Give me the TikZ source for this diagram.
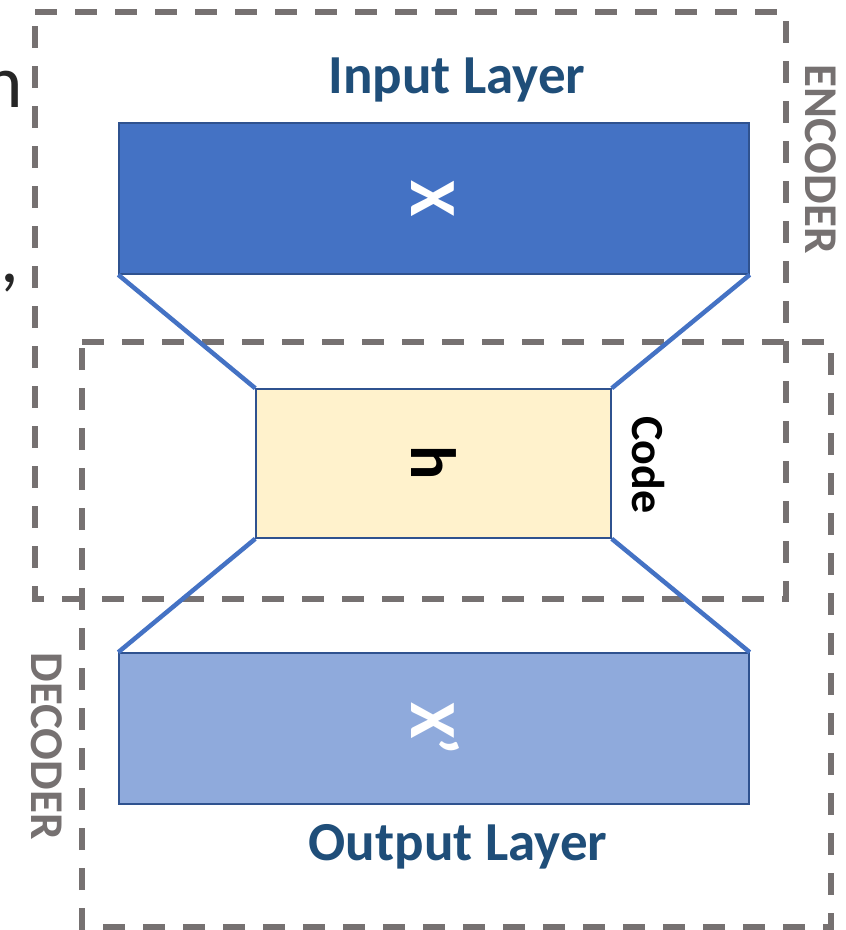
\documentclass[tikz,border=0pt]{standalone}
\usepackage{fontspec}
\setmainfont{Carlito}
\definecolor{encblue}{HTML}{4472C4}
\definecolor{decblue}{HTML}{8FAADC}
\definecolor{codefill}{HTML}{FFF2CC}
\definecolor{edgeblue}{HTML}{2F528F}
\definecolor{titleblue}{HTML}{1F4E79}
\definecolor{dashgray}{HTML}{767171}
\definecolor{fragtext}{HTML}{262626}
\begin{document}
\begin{tikzpicture}[x=1pt,y=-1pt,
  layerbox/.style={draw=edgeblue, line width=1.5pt, inner sep=0pt, minimum width=630pt, minimum height=151pt},
  funnel/.style={draw=encblue, line width=4.5pt},
  groupbox/.style={draw=dashgray, line width=5.5pt, dash pattern=on 22pt off 18pt},
  titletext/.style={font=\bfseries\fontsize{55}{60}\selectfont, text=titleblue, inner sep=0pt, anchor=base},
  sidelabel/.style={font=\bfseries\fontsize{47}{50}\selectfont, text=dashgray, rotate=-90, inner sep=0pt},
  varlabel/.style={font=\bfseries\fontsize{66}{70}\selectfont, text=white, rotate=-90, inner sep=0pt},
  fragment/.style={font=\fontsize{75}{80}\selectfont, text=fragtext, inner sep=0pt}
]
\useasboundingbox (0,0) rectangle (846,930);
% dashed group boxes
\draw[groupbox] (35,12) -- (786,12) -- (786,599) -- (35,599) -- cycle;
\draw[groupbox] (82,342) -- (831,342) -- (831,927) -- (82,927) -- cycle;
% layers
\node[layerbox, fill=encblue] (inp) at (434,198.5) {};
\node[layerbox, fill=codefill, minimum width=355pt, minimum height=149pt] (code) at (433.5,463.5) {};
\node[layerbox, fill=decblue] (out) at (434,728.5) {};
% funnel connectors
\draw[funnel] (inp.south west) -- (code.north west);
\draw[funnel] (inp.south east) -- (code.north east);
\draw[funnel] (code.south west) -- (out.north west);
\draw[funnel] (code.south east) -- (out.north east);
% labels
\node[titletext] (inptitle) at (457,93) {Input Layer};
\node[titletext] (outtitle) at (458,860) {Output Layer};
\node[varlabel] (xin) at (432.5,198.5) {X};
\node[varlabel, anchor=base west] (xout) at (411,702) {X’};
\node[varlabel, text=black, font=\bfseries\fontsize{64}{70}\selectfont] (hlab) at (434,463) {h};
\node[sidelabel, text=black, font=\bfseries\fontsize{46}{50}\selectfont] (codelab) at (648,465) {Code};
\node[sidelabel] (enclab) at (821,159) {ENCODER};
\node[sidelabel] (declab) at (47,746) {DECODER};
% cropped text fragments at the left edge
\begin{scope}
\clip (0,0) rectangle (846,930);
\node[fragment, anchor=base east] (fragn) at (23,107) {n};
\node[fragment, anchor=base west] (fragc) at (0,282) {,};
\end{scope}
\end{tikzpicture}
\end{document}
